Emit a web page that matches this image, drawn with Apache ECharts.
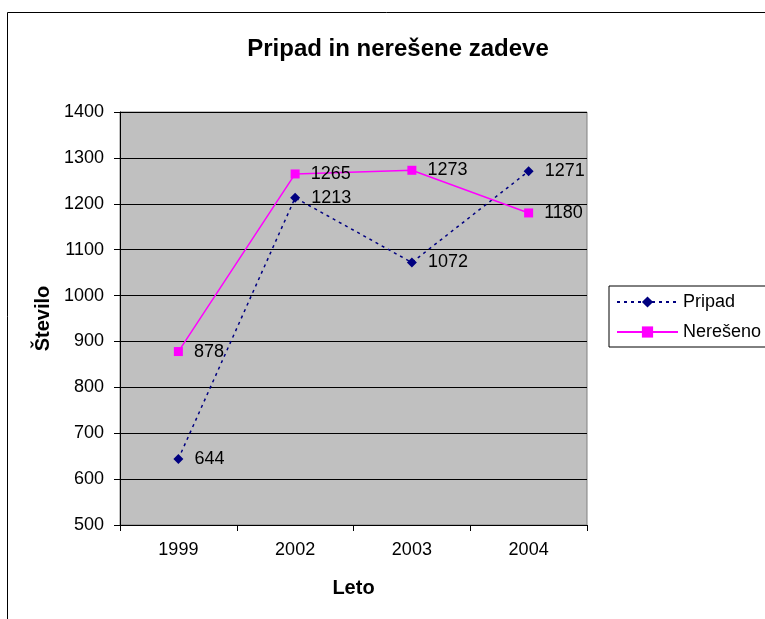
<!DOCTYPE html>
<html>
<head>
<meta charset="utf-8">
<script src="https://cdn.jsdelivr.net/npm/echarts@6/dist/echarts.min.js"></script>
<style>
  html, body { margin: 0; padding: 0; background: #fff; }
  #chart { width: 765px; height: 619px; }
</style>
</head>
<body>
<div id="chart"></div>
<script>
/*podatki*/
var leta = ['1999', '2002', '2003', '2004'];
var pripad = [644, 1213, 1072, 1271];
var nereseno = [878, 1265, 1273, 1180];

var font = 'Arial, "Liberation Sans", sans-serif';

var chart = echarts.init(document.getElementById('chart'));
var option = {
  animation: false,
  backgroundColor: '#fff',
  textStyle: { fontFamily: font },
  title: {
    text: 'Pripad in nerešene zadeve',
    left: 393,
    top: 32,
    textAlign: 'center',
    textStyle: { fontSize: 24, fontWeight: 'bold', color: '#000', fontFamily: font }
  },
  legend: {
    left: 609,
    top: 286,
    orient: 'vertical',
    itemWidth: 61,
    itemHeight: 14,
    itemGap: 12,
    padding: [7, 40, 6, 7],
    borderColor: '#000',
    borderWidth: 1,
    borderRadius: 0,
    textStyle: { fontSize: 18, color: '#000', fontFamily: font },
    data: ['Pripad', 'Nerešeno']
  },
  grid: { left: 120, right: 178, top: 112, bottom: 94, show: true, backgroundColor: '#C0C0C0', borderColor: '#808080', borderWidth: 1 },
  xAxis: {
    type: 'category',
    data: leta,
    boundaryGap: true,
    name: 'Leto',
    nameLocation: 'middle',
    nameGap: 53,
    nameTextStyle: { fontSize: 20, fontWeight: 'bold', color: '#000', fontFamily: font },
    axisLine: { lineStyle: { color: '#000', width: 1 } },
    axisTick: { show: true, length: 6, inside: false, lineStyle: { color: '#000' } },
    axisLabel: { fontSize: 18, color: '#000', margin: 16, fontFamily: font },
    splitLine: { show: false }
  },
  yAxis: {
    type: 'value',
    min: 500,
    max: 1400,
    interval: 100,
    name: 'Število',
    nameLocation: 'middle',
    nameGap: 56,
    nameTextStyle: { fontSize: 20, fontWeight: 'bold', color: '#000', fontFamily: font },
    axisLine: { show: true, lineStyle: { color: '#000', width: 1 } },
    axisTick: { show: true, length: 6, lineStyle: { color: '#000' } },
    axisLabel: { fontSize: 18, color: '#000', margin: 16, fontFamily: font, formatter: function (v) { return String(v); } },
    splitLine: { show: true, lineStyle: { color: '#000', width: 1 } }
  },
  series: [
    {
      name: 'Pripad',
      type: 'line',
      data: pripad,
      symbol: 'diamond',
      symbolSize: 10,
      itemStyle: { color: '#000080' },
      lineStyle: { color: '#000080', width: 1.5, type: [3, 4] },
      label: { show: true, position: 'right', distance: 11, fontSize: 18, color: '#000', fontFamily: font }
    },
    {
      name: 'Nerešeno',
      type: 'line',
      data: nereseno,
      symbol: 'rect',
      symbolSize: 9,
      itemStyle: { color: '#FF00FF' },
      lineStyle: { color: '#FF00FF', width: 1.5 },
      label: { show: true, position: 'right', distance: 11, fontSize: 18, color: '#000', fontFamily: font }
    }
  ],
  graphic: [
    {
      type: 'rect',
      shape: { x: 7.5, y: 12.5, width: 800, height: 700 },
      style: { fill: 'none', stroke: '#000', lineWidth: 1 },
      silent: true
    }
  ]
};
chart.setOption(option);
</script>
</body>
</html>
